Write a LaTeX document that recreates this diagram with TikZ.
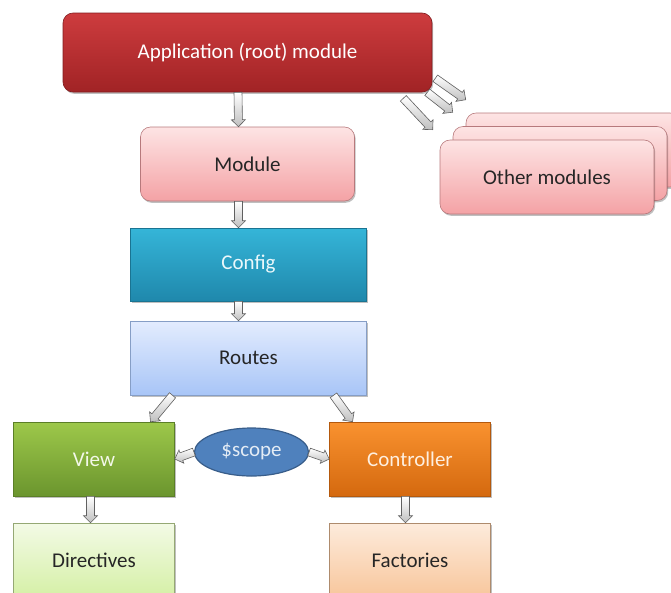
\documentclass[tikz,border=0pt]{standalone}
\usepackage{fontspec}
\setmainfont{Carlito}
\usetikzlibrary{positioning,calc,shapes.geometric,shadows}

\definecolor{apptop}{HTML}{CD3C3E}
\definecolor{appbot}{HTML}{A12325}
\definecolor{modtop}{HTML}{FDE4E4}
\definecolor{modbot}{HTML}{F4A2A5}
\definecolor{cfgtop}{HTML}{35B5D8}
\definecolor{cfgbot}{HTML}{1F88AC}
\definecolor{rtetop}{HTML}{E3ECFE}
\definecolor{rtebot}{HTML}{A8C5F7}
\definecolor{viewtop}{HTML}{9DC84A}
\definecolor{viewbot}{HTML}{6B952E}
\definecolor{ctrltop}{HTML}{F9922F}
\definecolor{ctrlbot}{HTML}{D4690F}
\definecolor{dirtop}{HTML}{F3FAE6}
\definecolor{dirbot}{HTML}{D5F0A6}
\definecolor{factop}{HTML}{FDEBDC}
\definecolor{facbot}{HTML}{F8C69C}
\definecolor{scopefill}{HTML}{4F81BD}
\definecolor{scopeline}{HTML}{385D8A}
\definecolor{darktext}{HTML}{262626}

\tikzset{
  box/.style={rectangle, inner sep=0pt, line width=0.6pt,
    drop shadow={shadow xshift=1.2pt, shadow yshift=-1.8pt, opacity=0.25, fill=black}},
  app/.style={box, rounded corners=10pt, top color=apptop, bottom color=appbot,
    draw=appbot!80!black, text=white, minimum width=369pt, minimum height=79pt},
  module/.style={box, rounded corners=10pt, top color=modtop, bottom color=modbot,
    draw=modbot!75!black, text=darktext, minimum width=214pt, minimum height=74pt},
  config/.style={box, top color=cfgtop, bottom color=cfgbot, draw=cfgbot!85!black,
    text=white!90!cfgtop, minimum width=236pt, minimum height=73pt},
  routes/.style={box, top color=rtetop, bottom color=rtebot, draw=rtebot!80!black,
    text=darktext, minimum width=236pt, minimum height=74pt},
  view/.style={box, top color=viewtop, bottom color=viewbot, draw=viewbot!85!black,
    text=white!88!viewtop, minimum width=161pt, minimum height=74pt},
  ctrl/.style={box, top color=ctrltop, bottom color=ctrlbot, draw=ctrlbot!85!black,
    text=white!85!ctrltop, minimum width=161pt, minimum height=74pt},
  directive/.style={box, top color=dirtop, bottom color=dirbot, draw=dirbot!70!black,
    text=darktext, minimum width=161pt, minimum height=74pt},
  factory/.style={box, top color=factop, bottom color=facbot, draw=facbot!70!black,
    text=darktext, minimum width=161pt, minimum height=74pt},
  scope/.style={ellipse, inner sep=0pt, fill=scopefill, draw=scopeline, line width=1.2pt,
    text=white!85!scopefill, minimum width=114pt, minimum height=48pt},
  blockarrow/.style={top color=white, bottom color=gray!50, draw=gray!75!black,
    line width=0.6pt, line join=miter}
}

\newcommand{\blockarrow}[2]{%
  \path (#1) coordinate (ba-s) (#2) coordinate (ba-t);
  \path ($(ba-t)!7pt!(ba-s)$) coordinate (ba-h);
  \draw[blockarrow] ($(ba-s)!4pt!90:(ba-t)$) -- ($(ba-h)!4pt!-90:(ba-s)$)
    -- ($(ba-h)!7pt!-90:(ba-s)$) -- (ba-t) -- ($(ba-h)!7pt!90:(ba-s)$)
    -- ($(ba-h)!4pt!90:(ba-s)$) -- ($(ba-s)!4pt!-90:(ba-t)$) -- cycle;
}

\begin{document}
\begin{tikzpicture}[x=1pt, y=1pt, on grid, font=\fontsize{21}{25}\selectfont]
\useasboundingbox (0,0) rectangle (671,-592);
   \node[app](app) at (247.5,-52.5){Application (root) module};
   \node[module](module)[below=111.5pt of app]{Module};
   \node[config](config)[below=100.5pt of module, xshift=1pt]{Config};
   \node[routes](routes)[below=93.5pt of config]{Routes};
\node[view](view)[below left=101pt and 154.5pt of routes]{View};
\node[ctrl](ctrl)[below right=101pt and 161.5pt of routes]{Controller};
\node[scope](scope)[below=94pt of routes, xshift=3pt]{\$scope};
\node[directive](directives)[below=101pt of view]{Directives};
\node[factory](factories)[below=101pt of ctrl]{Factories};
\node[module](others3)[above right=14pt and 325.5pt of module]{};
\node[module](others2)[below left=13.5pt and 13pt of others3]{};
\node[module](others)[below left=13.5pt and 13pt of others2]{Other modules};
   \blockarrow{[xshift=-9.5pt]app.south}{[xshift=-9pt]module.north}
   \blockarrow{[xshift=-9pt]module.south}{[xshift=-10pt]config.north}
   \blockarrow{[xshift=-10pt]config.south}{[xshift=-10pt]routes.north}
   \blockarrow{[xshift=-76pt]routes.south}{[xshift=56.5pt]view.north}
   \blockarrow{[xshift=85pt]routes.south}{[xshift=-57.5pt]ctrl.north}
\blockarrow{scope.west}{view.east}
\blockarrow{scope.east}{ctrl.west}
\blockarrow{[xshift=-3.5pt]view.south}{[xshift=-3.5pt]directives.north}
\blockarrow{[xshift=-4.5pt]ctrl.south}{[xshift=-4.5pt]factories.north}
\blockarrow{[shift={(-29pt,-6pt)}]app.south east}{[shift={(-7pt,10pt)}]others.north west}
\blockarrow{[shift={(-5pt,0pt)}]app.south east}{[shift={(0pt,14pt)}]others2.north west}
\blockarrow{[shift={(3pt,14pt)}]app.south east}{[shift={(0pt,13pt)}]others3.north west}

 \end{tikzpicture}
\end{document}
